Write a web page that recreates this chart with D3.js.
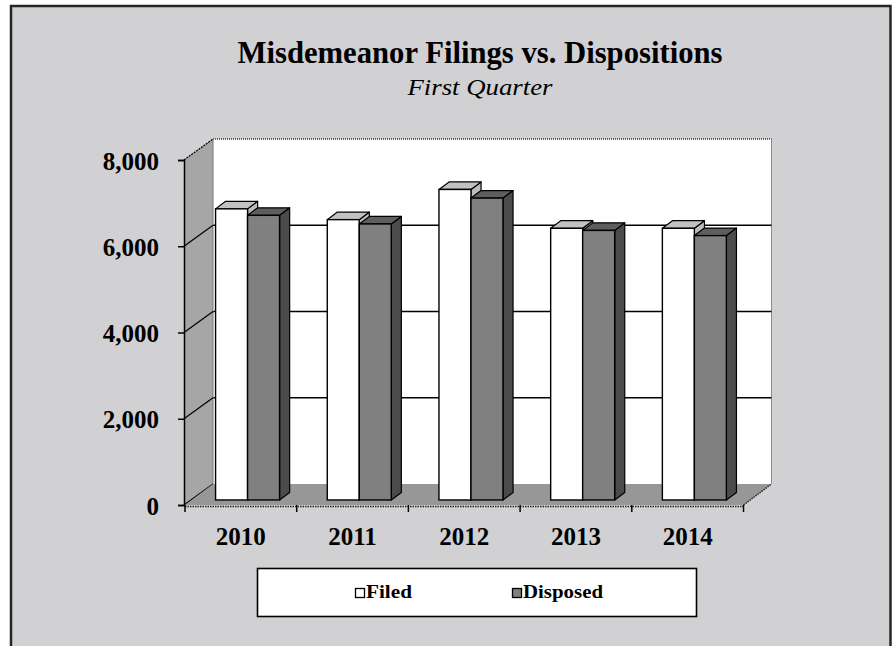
<!DOCTYPE html>
<html>
<head>
<meta charset="utf-8">
<script src="https://cdn.jsdelivr.net/npm/d3@7"></script>
<style>
  html, body { margin: 0; padding: 0; background: #ffffff; }
  svg { display: block; }
</style>
</head>
<body>
<svg id="chart" width="895" height="646"></svg>
<script>
// ---- data ----
const categories = ["2010", "2011", "2012", "2013", "2014"];
const seriesNames = ["Filed", "Disposed"];
const filed = [6750, 6500, 7200, 6300, 6300];
const disposed = [6600, 6400, 7000, 6250, 6130];
const yTicks = [0, 2000, 4000, 6000, 8000];
const titleText = "Misdemeanor Filings vs. Dispositions";
const subtitleText = "First Quarter";

// ---- layout ----
const svg = d3.select("#chart");
const FONT = "'Liberation Serif', 'Times New Roman', serif";
const DX = 28, DY = -21;           // 3D depth offset (front -> back)
const F0 = 0.24, F1 = 0.60;        // bar depth fractions

const x = d3.scaleBand().domain(categories).range([185, 743.5]).paddingInner(0).paddingOuter(0);
const y = d3.scaleLinear().domain([0, 8000]).range([505, 160]);
const clusterW = 64;
const xs = d3.scaleBand().domain(seriesNames).range([-clusterW / 2, clusterW / 2]);

const styles = {
  Filed:    { front: "#ffffff", top: "#c2c2c2", side: "#bdbdbd" },
  Disposed: { front: "#808080", top: "#5e5e5e", side: "#4b4b4b" }
};

// background frame
svg.append("rect").attr("x", 11).attr("y", 6).attr("width", 879.5).attr("height", 700)
  .attr("fill", "#d1d1d3").attr("stroke", "#262626").attr("stroke-width", 2.5);

const x0 = x.range()[0], x1 = x.range()[1];
const yTop = y(8000), yBot = y(0);

// back wall
svg.append("polygon")
  .attr("points", [[x0 + DX, yTop + DY], [x1 + DX, yTop + DY], [x1 + DX, yBot + DY], [x0 + DX, yBot + DY]].join(" "))
  .attr("fill", "#ffffff").attr("stroke", "none");
// back wall right edge
svg.append("line").attr("x1", x1 + DX).attr("x2", x1 + DX).attr("y1", yTop + DY).attr("y2", yBot + DY)
  .attr("stroke", "#8a8a8a").attr("stroke-width", 1);
// back wall top edge (dotted)
svg.append("line").attr("x1", x0 + DX).attr("x2", x1 + DX).attr("y1", yTop + DY).attr("y2", yTop + DY)
  .attr("stroke", "#333").attr("stroke-width", 1.5).attr("stroke-dasharray", "1,1");

// back wall gridlines
svg.append("g").selectAll("line").data(yTicks.filter(d => d > 0 && d < 8000)).join("line")
  .attr("x1", x0 + DX).attr("x2", x1 + DX)
  .attr("y1", d => y(d) + DY).attr("y2", d => y(d) + DY)
  .attr("stroke", "#000").attr("stroke-width", 1.3);

// left wall
svg.append("polygon")
  .attr("points", [[x0 - 1, yTop], [x0 + DX, yTop + DY], [x0 + DX, yBot + DY], [x0 - 1, yBot]].join(" "))
  .attr("fill", "#a6a6a6").attr("stroke", "none");
svg.append("line").attr("x1", x0 + DX).attr("x2", x0 + DX).attr("y1", yTop + DY).attr("y2", yBot + DY)
  .attr("stroke", "#777").attr("stroke-width", 1);
// left wall gridlines
svg.append("g").selectAll("line").data(yTicks).join("line")
  .attr("x1", x0 - 1).attr("x2", x0 + DX)
  .attr("y1", d => y(d)).attr("y2", d => y(d) + DY)
  .attr("stroke", "#000").attr("stroke-width", 1.2)
  .attr("stroke-dasharray", d => d === 8000 ? "2,1" : null);

// floor
svg.append("polygon")
  .attr("points", [[x0, yBot], [x1, yBot], [x1 + DX, yBot + DY], [x0 + DX, yBot + DY]].join(" "))
  .attr("fill", "#979797").attr("stroke", "none");
svg.append("line").attr("x1", x1).attr("x2", x1 + DX).attr("y1", yBot).attr("y2", yBot + DY)
  .attr("stroke", "#222").attr("stroke-width", 1.5).attr("stroke-dasharray", "1.5,1");
svg.append("line").attr("x1", x0).attr("x2", x1).attr("y1", yBot + 1.5).attr("y2", yBot + 1.5)
  .attr("stroke", "#222").attr("stroke-width", 1.5).attr("stroke-dasharray", "1.5,1");

// bars
const barData = [];
categories.forEach((c, i) => {
  barData.push({ cat: c, series: "Filed", value: filed[i] });
  barData.push({ cat: c, series: "Disposed", value: disposed[i] });
});
const bw = xs.bandwidth();
const gBars = svg.append("g");
barData.forEach(d => {
  const cx = x(d.cat) + x.bandwidth() / 2 + F0 * DX;
  const left = cx + xs(d.series);
  const right = left + bw;
  const top = y(d.value) + F0 * DY;
  const bot = y(0) + F0 * DY;
  const ddx = (F1 - F0) * DX, ddy = (F1 - F0) * DY;
  const st = styles[d.series];
  const g = gBars.append("g");
  g.append("polygon")
    .attr("points", [[right, top], [right + ddx, top + ddy], [right + ddx, bot + ddy], [right, bot]].join(" "))
    .attr("fill", st.side).attr("stroke", "#000").attr("stroke-width", 1.2).attr("stroke-linejoin", "round");
  g.append("polygon")
    .attr("points", [[left, top], [left + ddx, top + ddy], [right + ddx, top + ddy], [right, top]].join(" "))
    .attr("fill", st.top).attr("stroke", "#000").attr("stroke-width", 1.2).attr("stroke-linejoin", "round");
  g.append("rect")
    .attr("x", left).attr("y", top).attr("width", bw).attr("height", bot - top)
    .attr("fill", st.front).attr("stroke", "#000").attr("stroke-width", 1.4);
});

// y axis
const yAxis = d3.axisLeft(y).tickValues(yTicks).tickFormat(d3.format(",")).tickSize(6).tickPadding(19);
const gy = svg.append("g").attr("transform", `translate(${x0 - 1},0)`).call(yAxis);
gy.select(".domain").attr("stroke", "#000").attr("stroke-width", 1.5);
gy.selectAll(".tick line").attr("stroke", "#000").attr("stroke-width", 1.5);
gy.selectAll("text").attr("font-family", FONT).attr("font-size", 25).attr("font-weight", "bold")
  .attr("fill", "#000").attr("dy", "0.36em");

// x axis
const xAxis = d3.axisBottom(x).tickSize(0).tickPadding(22);
const gx = svg.append("g").attr("transform", `translate(0,${yBot})`).call(xAxis);
gx.select(".domain").remove();
gx.selectAll("text").attr("font-family", FONT).attr("font-size", 25).attr("font-weight", "bold").attr("fill", "#000");
// category boundary ticks
svg.append("g").selectAll("line").data(categories.concat(["__end"])).join("line")
  .attr("x1", (d, i) => i < categories.length ? x(d) : x1)
  .attr("x2", (d, i) => i < categories.length ? x(d) : x1)
  .attr("y1", yBot).attr("y2", yBot + 7)
  .attr("stroke", "#000").attr("stroke-width", 1.5);

// title
svg.append("text").attr("x", 480).attr("y", 63).attr("text-anchor", "middle")
  .attr("font-family", FONT).attr("font-size", 32).attr("font-weight", "bold")
  .attr("textLength", 485).attr("lengthAdjust", "spacingAndGlyphs")
  .text(titleText);
svg.append("text").attr("x", 480).attr("y", 95).attr("text-anchor", "middle")
  .attr("font-family", FONT).attr("font-size", 23).attr("font-style", "italic")
  .attr("textLength", 145).attr("lengthAdjust", "spacingAndGlyphs")
  .text(subtitleText);

// legend
svg.append("rect").attr("x", 257.5).attr("y", 568.5).attr("width", 439).attr("height", 48)
  .attr("fill", "#fff").attr("stroke", "#000").attr("stroke-width", 1.6);
const legendX = [355, 512];
const legendW = [46, 80];
const lg = svg.append("g").selectAll("g").data(seriesNames).join("g")
  .attr("transform", (d, i) => `translate(${legendX[i]},588)`);
lg.append("rect").attr("x", 0.5).attr("y", 0.5).attr("width", 9).attr("height", 9)
  .attr("fill", d => styles[d].front).attr("stroke", "#000").attr("stroke-width", 1.3);
lg.append("text").attr("x", 11).attr("y", 10)
  .attr("font-family", FONT).attr("font-size", 19).attr("font-weight", "bold")
  .attr("textLength", (d, i) => legendW[i]).attr("lengthAdjust", "spacingAndGlyphs")
  .text(d => d);
</script>
</body>
</html>
